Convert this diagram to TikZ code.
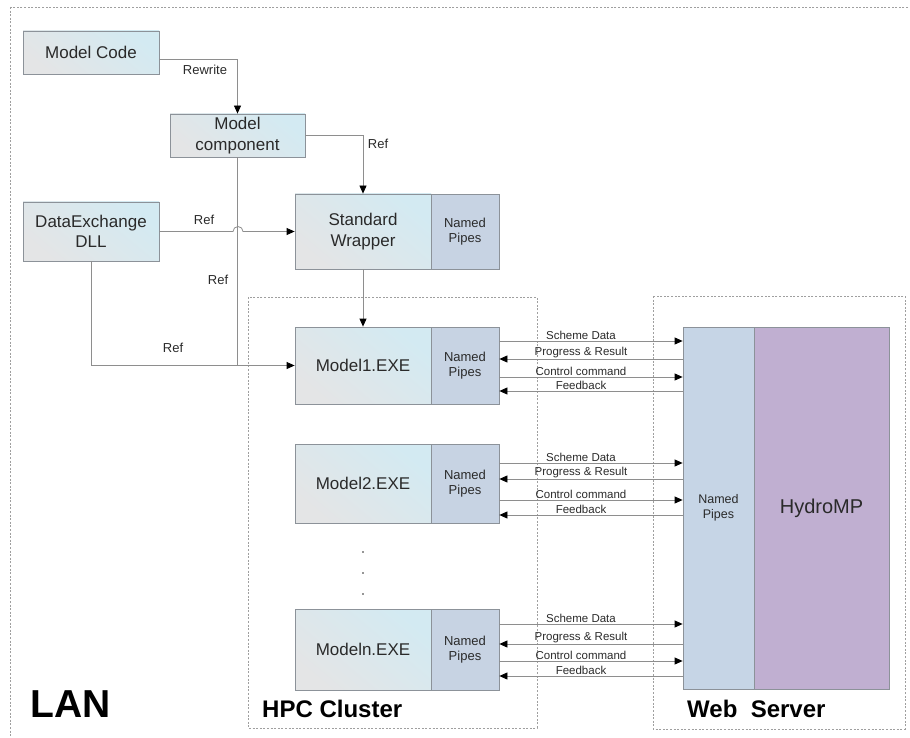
\documentclass[tikz,border=0pt]{standalone}
\usepackage{fontspec}
\setmainfont{Liberation Sans}
\usetikzlibrary{arrows.meta}

\definecolor{boxblue}{HTML}{D3EAF2}
\definecolor{boxgray}{HTML}{E4E5E6}
\definecolor{pipefill}{HTML}{C7D3E3}
\definecolor{webpipe}{HTML}{C6D5E6}
\definecolor{hydro}{HTML}{C0AFD1}
\definecolor{edgegray}{HTML}{8C9299}
\definecolor{linegray}{HTML}{8E8E8E}
\definecolor{textdark}{HTML}{2A2A2A}

\tikzset{
  fs/.style={font={\fontsize{#1}{\fpeval{1.2*#1}}\selectfont}},
  block/.style={draw=edgegray, line width=0.8pt, inner sep=0pt, align=center,
    text=textdark, top color=boxblue, bottom color=boxgray, shading angle=-40,
    fs=17},
  pipes/.style={draw=edgegray, line width=0.8pt, inner sep=0pt, align=center,
    text=textdark, fill=pipefill, fs=13},
  conn/.style={draw=linegray, line width=0.8pt},
  arr/.style={conn, -{Triangle[length=8pt,width=7pt,black]}},
  lab/.style={inner sep=0pt, text=textdark, fs=13},
  plab/.style={inner sep=0.5pt, anchor=south, text=textdark, fs=11.5},
  region/.style={draw=gray!75, line width=0.6pt, dash pattern=on 2pt off 1.6pt},
  title/.style={inner sep=0pt, anchor=base west, text=black},
}

\begin{document}
\begin{tikzpicture}[x=1pt,y=-1pt]
\useasboundingbox (0,0) rectangle (910,738);

% regions
\draw[region] (10,7) rectangle (930,760);
\draw[region] (248,297) rectangle (537,728);
\draw[region] (653,296) rectangle (905,729);

% build chain
\node[block, minimum width=136, minimum height=43] (code) at (91,52.5) {Model Code};
\node[block, minimum width=135, minimum height=43] (comp) at (237.5,135.5) {Model\\component};
\node[block, minimum width=136, minimum height=59] (dll) at (91,231.5) {DataExchange\\DLL};
\node[block, minimum width=136, minimum height=75] (sw) at (363,231.5) {Standard\\Wrapper};
\node[pipes, minimum width=68, minimum height=75] (swp) at (465,231.5) {Named\\Pipes};

% model executables
\node[block, minimum width=136, minimum height=77] (m1) at (363,365.5) {Model1.EXE};
\node[pipes, minimum width=68, minimum height=77] (m1p) at (465,365.5) {Named\\Pipes};
\node[block, minimum width=136, minimum height=79] (m2) at (363,483.5) {Model2.EXE};
\node[pipes, minimum width=68, minimum height=79] (m2p) at (465,483.5) {Named\\Pipes};
\node[block, minimum width=136, minimum height=81] (mn) at (363,649.5) {Modeln.EXE};
\node[pipes, minimum width=68, minimum height=81] (mnp) at (465,649.5) {Named\\Pipes};

% web server
\node[draw=edgegray, line width=0.8pt, fill=webpipe, inner sep=0pt, align=center,
  text=textdark, fs=12.5, minimum width=71, minimum height=362] (wp) at (718.5,508) {Named\\Pipes};
\node[draw=edgegray, line width=0.8pt, fill=hydro, inner sep=0pt,
  text=textdark, fs=20, minimum width=135, minimum height=362] (hmp) at (821.5,508) {HydroMP};

% ellipsis between model 2 and model n
\foreach \yy in {552,573,594}
  \fill[textdark] (363,\yy) circle (0.9pt);

% build connectors
\coordinate (rw) at ([yshift=-6.5pt]code.east);
\draw[arr] (rw) -| (comp.north);
\node[lab] (lrw) at (205,70) {Rewrite};

\draw[arr] (comp.east) -| (sw.north);
\node[lab] (lr1) at (378,144) {Ref};

\coordinate (hopa) at (233,231.5);
\draw[arr] (dll.east) -- (hopa) arc[start angle=180, end angle=0, radius=5pt] -- (sw.west);
\node[lab] (lr2) at (204,220) {Ref};

\coordinate (join) at (237.5,365.5);
\draw[conn] (comp.south) -- (join);
\node[lab] (lr3) at (218,280) {Ref};

\draw[arr] (dll.south) |- (m1.west);
\node[lab] (lr4) at (173,348) {Ref};

\draw[arr] (sw.south) -- (m1.north);

% pipe traffic
\foreach \src/\a/\b/\c/\d in {m1p/341/359/377/391, m2p/463/479/500/515, mnp/624/644/661/676}{
  \draw[arr] (\src.east |- 0,\a) -- (wp.west |- 0,\a)
    node[plab] at (581,\a) {Scheme Data};
  \draw[arr] (wp.west |- 0,\b) -- (\src.east |- 0,\b)
    node[plab] at (581,\b) {Progress \& Result};
  \draw[arr] (\src.east |- 0,\c) -- (wp.west |- 0,\c)
    node[plab] at (581,\c) {Control command};
  \draw[arr] (wp.west |- 0,\d) -- (\src.east |- 0,\d)
    node[plab] at (581,\d) {Feedback};
}

% region titles
\node[title, fs=39] (lan) at (30,717) {\bfseries LAN};
\node[title, fs=24] (hpc) at (262,717) {\bfseries HPC Cluster};
\node[title, fs=24] (web) at (687,717) {\bfseries Web\ \ Server};
\end{tikzpicture}
\end{document}
